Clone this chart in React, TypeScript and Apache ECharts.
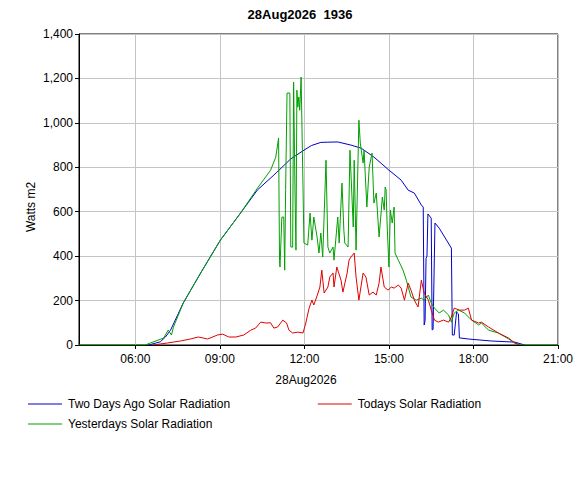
import React, { useEffect, useRef } from "react";
import * as echarts from "echarts";

const TITLE = "28Aug2026  1936";
const X_NAME = "28Aug2026";
const Y_NAME = "Watts m2";
const X_TICKS = [6, 9, 12, 15, 18, 21];

const twoDaysAgoTimes = [
  "06:27", "06:32", "06:42", "06:53", "07:04", "07:15", "07:42", "08:19", "09:01", "09:44",
  "10:00", "10:20", "10:55", "11:00", "11:31", "11:59", "12:15", "12:35", "12:50", "13:11",
  "13:39", "14:01", "14:28", "14:45", "15:00", "15:13", "15:26", "15:41", "15:54", "16:09",
  "16:13", "16:15", "16:17", "16:19", "16:21", "16:23", "16:30", "16:32", "16:34", "16:38",
  "16:47", "17:13", "17:15", "17:19", "17:24", "17:28", "17:30", "17:49", "18:38", "19:28",
  "19:49",
];
const twoDaysAgoValues = [
  0, 2, 8, 14, 36, 67, 189, 324, 472, 594,
  640, 698, 765, 775, 838, 877, 898, 912, 913, 914,
  900, 886, 846, 815, 787, 765, 742, 697, 684, 630,
  621, 90, 110, 390, 400, 590, 571, 68, 70, 549,
  526, 436, 45, 45, 148, 140, 32, 27, 18, 13,
  0,
];

const yesterdayTimes = [
  "04:00", "06:21", "06:32", "07:00", "07:10", "07:17", "07:21", "07:42", "08:19", "09:01",
  "09:44", "10:20", "10:48", "10:59", "11:05", "11:07", "11:08", "11:12", "11:16", "11:18",
  "11:20", "11:23", "11:29", "11:31", "11:35", "11:37", "11:40", "11:42", "11:44", "11:46",
  "11:48", "11:50", "11:53", "11:57", "11:59", "12:07", "12:12", "12:16", "12:20", "12:27",
  "12:31", "12:35", "12:39", "12:46", "12:50", "12:54", "13:01", "13:03", "13:11", "13:14",
  "13:20", "13:24", "13:26", "13:33", "13:37", "13:44", "13:46", "13:50", "13:56", "13:59",
  "14:05", "14:07", "14:13", "14:18", "14:24", "14:28", "14:33", "14:39", "14:46", "14:50",
  "14:52", "14:54", "14:56", "15:00", "15:03", "15:07", "15:11", "15:13", "15:20", "15:30",
  "15:37", "15:47", "15:58", "16:09", "16:15", "16:24", "16:30", "16:37", "16:47", "16:56",
  "17:07", "17:13", "17:19", "17:28", "17:41", "17:56", "18:11", "18:17", "18:32", "18:53",
  "19:15", "19:28", "19:43", "21:00",
];
const yesterdayValues = [
  0, 0, 9, 31, 67, 45, 80, 189, 324, 472,
  594, 706, 787, 846, 931, 380, 351, 576, 576, 337,
  700, 1134, 1134, 441, 441, 1183, 684, 427, 1147, 1071,
  1116, 1057, 1206, 711, 459, 450, 594, 472, 576, 486,
  414, 504, 396, 832, 441, 414, 441, 382, 576, 459,
  729, 517, 459, 441, 877, 531, 832, 427, 1012, 909,
  819, 877, 621, 801, 864, 639, 684, 486, 666, 607,
  711, 698, 549, 351, 607, 549, 621, 414, 382, 337,
  292, 216, 202, 211, 202, 225, 189, 166, 144, 157,
  135, 103, 144, 157, 144, 112, 90, 99, 67, 54,
  27, 9, 0, 0,
];

const todayTimes = [
  "06:38", "07:08", "07:36", "07:57", "08:14", "08:34", "08:55", "09:06", "09:19", "09:34",
  "09:51", "10:06", "10:16", "10:27", "10:38", "10:48", "10:55", "11:03", "11:14", "11:22",
  "11:27", "11:35", "11:46", "11:57", "12:03", "12:10", "12:16", "12:20", "12:29", "12:33",
  "12:37", "12:42", "12:50", "12:54", "13:01", "13:03", "13:09", "13:18", "13:22", "13:31",
  "13:35", "13:39", "13:46", "13:50", "13:56", "14:05", "14:11", "14:18", "14:26", "14:33",
  "14:39", "14:43", "14:50", "14:58", "15:05", "15:11", "15:20", "15:26", "15:33", "15:41",
  "15:47", "15:54", "16:02", "16:09", "16:15", "16:24", "16:30", "16:37", "16:45", "16:56",
  "17:07", "17:13", "17:19", "17:30", "17:41", "17:49", "17:56", "18:11", "18:17", "18:32",
  "18:53", "19:15", "19:28", "19:38",
];
const todayValues = [
  0, 9, 18, 27, 36, 27, 45, 49, 36, 36,
  45, 67, 76, 103, 99, 100, 76, 81, 112, 99,
  67, 54, 58, 54, 99, 166, 202, 180, 234, 261,
  337, 234, 261, 306, 324, 261, 351, 292, 238, 324,
  382, 396, 414, 306, 202, 324, 306, 225, 238, 225,
  279, 351, 261, 247, 261, 256, 270, 256, 202, 279,
  247, 202, 171, 292, 234, 202, 157, 112, 103, 112,
  103, 126, 166, 157, 157, 166, 112, 99, 103, 81,
  54, 31, 9, 0,
];

const SERIES_NAMES = [
  "Two Days Ago Solar Radiation",
  "Todays Solar Radiation",
  "Yesterdays Solar Radiation",
];

const toHours = (t: string) => {
  const [h, m] = t.split(":").map(Number);
  return h + m / 60;
};
const pairs = (times: string[], values: number[]) =>
  times.map((t, i) => [toHours(t), values[i]]);

const FONT = "'Liberation Sans', Arial, sans-serif";

export default function App() {
  const ref = useRef<HTMLDivElement>(null);
  useEffect(() => {
    if (!ref.current) return;
    const chart = echarts.init(ref.current, null, { renderer: "svg" });
    chart.setOption({
      animation: false,
      backgroundColor: "#ffffff",
      textStyle: { fontFamily: FONT },
      grid: {
        left: 79,
        right: 26,
        top: 34,
        bottom: 143,
        show: true,
        borderColor: "#000",
        borderWidth: 1,
        backgroundColor: "transparent",
      },
      legend: [
        {
          data: [SERIES_NAMES[0], SERIES_NAMES[1]],
          left: 23,
          top: 393,
          itemWidth: 34,
          itemHeight: 1,
          itemGap: 87,
          icon: "rect",
          textStyle: { fontSize: 12, color: "#000", fontFamily: FONT, padding: [0, 0, 0, 1] },
        },
        {
          data: [SERIES_NAMES[2]],
          left: 23,
          top: 413,
          itemWidth: 34,
          itemHeight: 1,
          icon: "rect",
          textStyle: { fontSize: 12, color: "#000", fontFamily: FONT, padding: [0, 0, 0, 1] },
        },
      ],
      xAxis: {
        type: "value",
        min: 4,
        max: 21,
        axisLine: { show: true, lineStyle: { color: "#000", width: 1 } },
        axisTick: { show: true, length: 4, lineStyle: { color: "#000" }, customValues: X_TICKS },
        axisLabel: {
          customValues: X_TICKS,
          color: "#000",
          fontSize: 12,
          fontFamily: FONT,
          margin: 8,
          formatter: (v: number) => `${String(v).padStart(2, "0")}:00`,
        },
        splitLine: { show: true, lineStyle: { color: "#c4c4c4", width: 1 } },
      },
      yAxis: {
        type: "value",
        min: 0,
        max: 1400,
        interval: 200,
        axisLine: { show: true, lineStyle: { color: "#000", width: 1 } },
        axisTick: { show: true, length: 4, lineStyle: { color: "#000" } },
        axisLabel: {
          color: "#000",
          fontSize: 12,
          fontFamily: FONT,
          margin: 6,
          formatter: (v: number) => v.toLocaleString("en-US"),
        },
        splitLine: { show: true, lineStyle: { color: "#c4c4c4", width: 1 } },
      },
      graphic: [
        {
          type: "text",
          x: 300,
          y: 14,
          style: {
            text: TITLE,
            font: `bold 13px ${FONT}`,
            fill: "#000",
            textAlign: "center",
            textVerticalAlign: "middle",
          },
        },
        {
          type: "text",
          x: 306,
          y: 380,
          style: {
            text: X_NAME,
            font: `12px ${FONT}`,
            fill: "#000",
            textAlign: "center",
            textVerticalAlign: "middle",
          },
        },
        {
          type: "text",
          x: 31,
          y: 207,
          rotation: Math.PI / 2,
          style: {
            text: Y_NAME,
            font: `12px ${FONT}`,
            fill: "#000",
            textAlign: "center",
            textVerticalAlign: "middle",
          },
        },
      ],
      series: [
        {
          name: SERIES_NAMES[0],
          type: "line",
          data: pairs(twoDaysAgoTimes, twoDaysAgoValues),
          showSymbol: false,
          color: "#0000cc",
          lineStyle: { width: 1, color: "#0000cc" },
          z: 2,
        },
        {
          name: SERIES_NAMES[2],
          type: "line",
          data: pairs(yesterdayTimes, yesterdayValues),
          showSymbol: false,
          color: "#00a000",
          lineStyle: { width: 1, color: "#00a000" },
          z: 3,
        },
        {
          name: SERIES_NAMES[1],
          type: "line",
          data: pairs(todayTimes, todayValues),
          showSymbol: false,
          color: "#e00000",
          lineStyle: { width: 1, color: "#e00000" },
          z: 4,
        },
      ],
    });
    return () => chart.dispose();
  }, []);
  return (
    <div
      ref={ref}
      style={{ position: "fixed", left: 0, top: 0, width: 584, height: 488, background: "#fff" }}
    />
  );
}
